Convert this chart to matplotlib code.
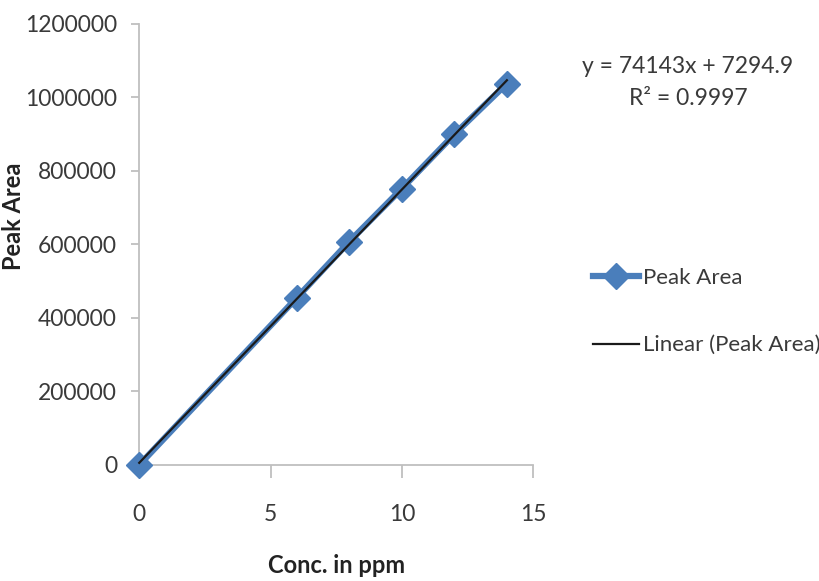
import numpy as np
import matplotlib
matplotlib.use("Agg")
import matplotlib.pyplot as plt

conc = [0, 6, 8, 10, 12, 14]
peak_area = [0, 455000, 608000, 752000, 900000, 1038000]
x_ticks = [0, 5, 10, 15]
y_ticks = [0, 200000, 400000, 600000, 800000, 1000000, 1200000]
eq_text = "y = 74143x + 7294.9"
r2_text = "R\u00b2 = 0.9997"

plt.rcParams['font.family'] = ["Lato", "DejaVu Sans"]

fig = plt.figure(figsize=(8.19, 5.81), dpi=100)
ax = fig.add_axes([0.170, 0.1997, 0.481, 0.759])

blue = "#4A7EBB"
ax.plot(conc, peak_area, color=blue, lw=4.5, marker="D", markersize=13,
        label="Peak Area", zorder=3, clip_on=False)
coef = np.polyfit(conc, peak_area, 1)
xs = np.array([min(conc), max(conc)])
ax.plot(xs, np.polyval(coef, xs), color="#1a1a1a", lw=1.6,
        label="Linear (Peak Area)", zorder=4, clip_on=False)

ax.set_xlim(0, 15)
ax.set_ylim(0, 1200000)
ax.set_xticks(x_ticks)
ax.set_yticks(y_ticks)
ax.set_xticklabels([str(v) for v in x_ticks])
ax.set_yticklabels([str(v) for v in y_ticks])
for s in ["top", "right"]:
    ax.spines[s].set_visible(False)
for s in ["left", "bottom"]:
    ax.spines[s].set_color("#BFBFBF")
    ax.spines[s].set_linewidth(1.3)
ax.tick_params(axis="both", colors="#BFBFBF", width=1.3,
               labelsize=16.5, labelcolor="#3a3a3a")
ax.tick_params(axis="y", length=6, pad=10)
ax.tick_params(axis="x", length=9, pad=19)

fig.text(0.411, 0.027, "Conc. in ppm", ha="center", va="center",
         fontsize=17, fontweight="bold", color="#222222")
fig.text(0.031, 0.627, "Peak Area", ha="right", va="center", rotation=90,
         fontsize=17, fontweight="bold", color="#222222")

fig.text(0.840, 0.885, eq_text, ha="center", va="center", fontsize=16.5, color="#3a3a3a")
fig.text(0.840, 0.830, r2_text, ha="center", va="center", fontsize=16.5, color="#3a3a3a")

handles, labels = ax.get_legend_handles_labels()
leg = fig.legend(handles, labels, loc="center left", bbox_to_anchor=(0.710, 0.464),
                 frameon=False, fontsize=16, handlelength=2.1, handletextpad=0.15,
                 labelspacing=2.15, labelcolor="#3a3a3a", borderpad=0)

fig.savefig("out.png", dpi=100, facecolor="white")
